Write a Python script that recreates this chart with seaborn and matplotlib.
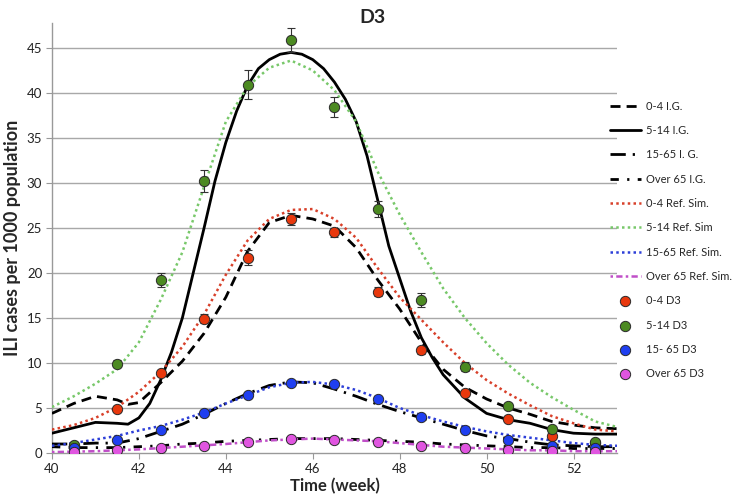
import numpy as np
import pandas as pd
import matplotlib
matplotlib.use("Agg")
import matplotlib.pyplot as plt
import seaborn as sns

# ---------------- data ----------------
obs_weeks = [40.5, 41.5, 42.5, 43.5, 44.5, 45.5, 46.5, 47.5, 48.5, 49.5, 50.5, 51.5, 52.5]
obs_0_4 = [0.8, 4.9, 8.9, 14.9, 21.7, 26.0, 24.5, 17.9, 11.4, 6.7, 3.8, 1.9, 1.1]
obs_0_4_err = [0.2, 0.3, 0.3, 0.5, 0.8, 0.7, 0.5, 0.5, 0.4, 0.3, 0.2, 0.2, 0.1]
obs_5_14 = [0.9, 9.9, 19.2, 30.2, 40.9, 45.9, 38.4, 27.1, 17.0, 9.6, 5.2, 2.7, 1.2]
obs_5_14_err = [0.3, 0.4, 0.8, 1.2, 1.6, 1.3, 1.1, 0.9, 0.8, 0.5, 0.3, 0.2, 0.2]
obs_15_65 = [0.5, 1.4, 2.6, 4.4, 6.4, 7.8, 7.7, 6.0, 4.0, 2.5, 1.4, 0.8, 0.5]
obs_over65 = [0.1, 0.3, 0.5, 0.8, 1.2, 1.5, 1.4, 1.2, 0.8, 0.5, 0.3, 0.2, 0.1]

wk_fine = [40, 40.5, 41, 41.5, 41.75, 42, 42.25, 42.5, 42.75, 43, 43.25, 43.5, 43.75, 44,
           44.25, 44.5, 44.75, 45, 45.25, 45.5, 45.75, 46, 46.25, 46.5, 46.75, 47, 47.25,
           47.5, 47.75, 48, 48.25, 48.5, 48.75, 49, 49.5, 50, 50.5, 51, 51.5, 52, 52.5, 53]
ig_5_14 = [2.2, 2.8, 3.4, 3.3, 3.2, 3.9, 5.5, 8.1, 11.2, 15.0, 20.0, 25.0, 30.2, 34.5,
           38.0, 40.8, 42.7, 43.7, 44.3, 44.5, 44.3, 43.7, 42.7, 41.2, 39.3, 36.8, 33.0,
           28.0, 23.0, 19.4, 15.8, 12.8, 10.6, 8.7, 6.1, 4.4, 3.7, 3.3, 2.6, 2.2, 2.1, 2.1]

wk_ig04 = [40, 40.5, 41, 41.5, 41.75, 42, 42.5, 43, 43.5, 44, 44.5, 45, 45.5, 46, 46.5,
           47, 47.5, 48, 48.5, 49, 49.5, 50, 50.5, 51, 51.5, 52, 52.5, 53]
ig_0_4 = [4.4, 5.5, 6.3, 5.9, 5.4, 5.6, 7.8, 10.2, 13.3, 17.3, 22.4, 25.6, 26.4, 26.0, 25.2,
          22.8, 19.2, 16.0, 12.3, 9.3, 7.3, 6.0, 5.0, 4.3, 3.5, 3.1, 2.8, 2.7]

wk_half = [40, 40.5, 41, 41.5, 42, 42.5, 43, 43.5, 44, 44.5, 45, 45.5, 46, 46.5, 47, 47.5,
           48, 48.5, 49, 49.5, 50, 50.5, 51, 51.5, 52, 52.5, 53]
ig_15_65 = [1.0, 1.0, 1.1, 1.1, 1.6, 2.4, 3.2, 4.3, 5.5, 6.6, 7.5, 7.9, 7.8, 7.1, 6.3, 5.4,
            4.6, 3.9, 3.2, 2.5, 1.9, 1.6, 1.2, 0.9, 0.8, 0.7, 0.7]
ig_over65 = [0.7, 0.6, 0.6, 0.6, 0.7, 0.8, 1.0, 1.1, 1.3, 1.4, 1.5, 1.6, 1.6, 1.6, 1.5, 1.4,
             1.3, 1.2, 1.0, 0.9, 0.8, 0.7, 0.6, 0.6, 0.5, 0.5, 0.5]
ref_0_4 = [2.6, 3.1, 3.9, 5.1, 6.8, 9.0, 11.8, 15.4, 19.8, 23.6, 26.0, 27.0, 27.1, 26.0, 23.9,
           20.5, 17.3, 14.8, 12.3, 10.0, 8.1, 6.6, 5.3, 4.1, 3.3, 2.6, 2.4]
ref_5_14 = [5.1, 6.3, 7.7, 9.3, 12.3, 17.0, 22.3, 29.6, 36.8, 40.7, 42.8, 43.6, 42.5, 40.3,
            36.8, 31.2, 26.5, 22.3, 18.3, 15.0, 12.2, 9.8, 7.8, 6.2, 4.8, 3.5, 2.9]
ref_15_65 = [0.8, 1.1, 1.5, 1.9, 2.5, 3.0, 3.7, 4.5, 5.5, 6.4, 7.3, 7.8, 7.9, 7.6, 7.0, 6.1,
             5.0, 4.2, 3.5, 2.9, 2.4, 2.0, 1.7, 1.4, 1.1, 0.9, 0.8]
ref_over65 = [0.1, 0.15, 0.2, 0.3, 0.4, 0.55, 0.7, 0.85, 1.0, 1.2, 1.4, 1.5, 1.6, 1.5, 1.4,
              1.3, 1.1, 0.9, 0.7, 0.6, 0.5, 0.4, 0.3, 0.3, 0.2, 0.2, 0.2]

x_ticks = [40, 42, 44, 46, 48, 50, 52]
y_ticks = [0, 5, 10, 15, 20, 25, 30, 35, 40, 45]

# ---------------- style ----------------
sns.set_theme(style="white")
plt.rcParams["font.family"] = ["Lato", "DejaVu Sans"]

fig = plt.figure(figsize=(7.33, 4.96), dpi=100)
ax = fig.add_axes([0.0709, 0.0867, 0.7708, 0.8675])

c_red, c_green, c_blue, c_pink = "#E8380D", "#4C8A22", "#1F3FF0", "#E055E0"
c_red_l, c_green_l, c_blue_l, c_pink_l = "#D8402A", "#78C86A", "#2C3ED8", "#C04FC8"

lines = [
    (wk_ig04, ig_0_4, "0-4 I.G.", "black", (0, (3.6, 2.2)), 2.0),
    (wk_fine, ig_5_14, "5-14 I.G.", "black", "-", 2.0),
    (wk_half, ig_15_65, "15-65 I. G.", "black", (0, (5.5, 2.5, 0.8, 2.5)), 2.0),
    (wk_half, ig_over65, "Over 65 I.G.", "black", (0, (3, 3, 0.8, 3)), 2.0),
    (wk_half, ref_0_4, "0-4 Ref. Sim.", c_red_l, (0, (1, 1.3)), 1.8),
    (wk_half, ref_5_14, "5-14 Ref. Sim", c_green_l, (0, (1, 1.3)), 1.8),
    (wk_half, ref_15_65, "15-65 Ref. Sim.", c_blue_l, (0, (1, 1.3)), 1.8),
    (wk_half, ref_over65, "Over 65 Ref. Sim.", c_pink_l, (0, (1, 1.3, 2.5, 1.3)), 1.8),
]
for xs, ys, lab, col, ls, lw in lines:
    sns.lineplot(x=xs, y=ys, ax=ax, color=col, linestyle=ls, linewidth=lw,
                 label=lab, zorder=3, sort=False)

# error bars
ax.errorbar(obs_weeks, obs_0_4, yerr=obs_0_4_err, fmt="none", ecolor="#333333",
            elinewidth=0.8, capsize=3, capthick=0.8, zorder=4)
ax.errorbar(obs_weeks, obs_5_14, yerr=obs_5_14_err, fmt="none", ecolor="#333333",
            elinewidth=0.8, capsize=3, capthick=0.8, zorder=4)

pts = [
    (obs_0_4, "0-4 D3", c_red),
    (obs_5_14, "5-14 D3", c_green),
    (obs_15_65, "15- 65 D3", c_blue),
    (obs_over65, "Over 65 D3", c_pink),
]
for ys, lab, col in pts:
    sns.scatterplot(x=obs_weeks, y=ys, ax=ax, color=col, s=55, edgecolor="#2a2a2a",
                    linewidth=0.7, label=lab, zorder=5)

ax.set_xlim(40, 53)
ax.set_ylim(0, 47.8)
ax.set_xticks(x_ticks)
ax.set_yticks(y_ticks)
ax.tick_params(axis="both", labelsize=9.5, colors="#222222", length=4, width=0.8,
               color="#999999", direction="out", left=True, bottom=True, pad=3)
for t in ax.get_xticklabels() + ax.get_yticklabels():
    t.set_color("#222222")

for gy in y_ticks[1:]:
    ax.axhline(gy, color="#A8A8A8", linewidth=1.0, zorder=1)

for side in ["top", "right"]:
    ax.spines[side].set_visible(False)
for side in ["left", "bottom"]:
    ax.spines[side].set_color("#999999")
    ax.spines[side].set_linewidth(1.0)

ax.set_xlabel("Time (week)", fontsize=12, fontweight="bold", labelpad=2)
ax.set_ylabel("ILI cases per 1000 population", fontsize=13, fontweight="bold", labelpad=4)
fig.text(0.508, 0.982, "D3", ha="center", va="top", fontsize=14, fontweight="bold")

handles, labels = ax.get_legend_handles_labels()
leg = fig.legend(handles, labels, loc="upper left", bbox_to_anchor=(0.826, 0.806),
                 frameon=False, fontsize=8, handlelength=2.8, handletextpad=0.45,
                 labelspacing=1.2, borderaxespad=0)
if ax.get_legend():
    ax.get_legend().remove()

fig.savefig("out.png", dpi=100)
